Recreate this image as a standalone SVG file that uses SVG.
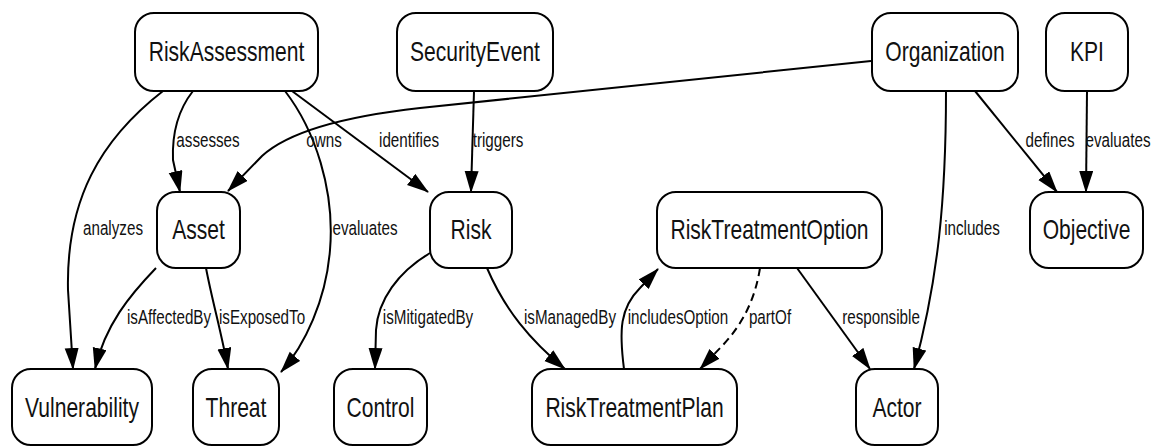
<svg xmlns="http://www.w3.org/2000/svg" width="1155" height="446" viewBox="0 0 1155 446">
  <defs>
    <marker id="arrow" markerUnits="userSpaceOnUse" markerWidth="24" markerHeight="15" refX="21" refY="7" orient="auto">
      <path d="M0,0 L22,7 L0,14 z" fill="#000"/>
    </marker>
    <style>
      .node rect { fill: #fff; stroke: #000; stroke-width: 2; }
      .node text { font-family: "Liberation Sans", Arial, sans-serif; font-size: 27px; fill: #111; text-anchor: middle; }
      .edge { fill: none; stroke: #000; stroke-width: 2; marker-end: url(#arrow); }
      .dashed { stroke-dasharray: 8 5; }
      .label { font-family: "Liberation Sans", Arial, sans-serif; font-size: 19.5px; fill: #111; text-anchor: middle; }
    </style>
  </defs>
  <rect width="1155" height="446" fill="#fff"/>

  <!-- connectors -->
  <g id="connectors">
    <path class="edge" d="M163,91 C100,140 66,200 68,290 L73,369"/>
    <path class="edge" d="M193,91 C178,110 172,135 173,160 L180,192"/>
    <path class="edge" d="M871,61 L420,108 C330,118 285,135 262,156 L228,191"/>
    <path class="edge" d="M285,91 C315,130 335,190 330,250 C326,300 305,345 281,372"/>
    <path class="edge" d="M292,91 L428,192"/>
    <path class="edge" d="M474,91 L471,192"/>
    <path class="edge" d="M975,91 L1057,192"/>
    <path class="edge" d="M1087,91 L1086,192"/>
    <path class="edge" d="M946,91 C946,200 938,280 914,369"/>
    <path class="edge" d="M156,268 C130,295 105,325 95,369"/>
    <path class="edge" d="M206,268 C212,300 222,335 228,369"/>
    <path class="edge" d="M430,253 C398,272 378,300 376,330 L375,369"/>
    <path class="edge" d="M487,268 C505,310 530,340 565,369"/>
    <path class="edge" d="M624,369 C619,330 620,308 640,288 L658,269"/>
    <path class="edge dashed" d="M760,268 C755,300 742,325 722,346 L700,369"/>
    <path class="edge" d="M797,268 L870,369"/>

    <text class="label" transform="translate(113,235) scale(0.78,1)">analyzes</text>
    <text class="label" transform="translate(208,147) scale(0.78,1)">assesses</text>
    <text class="label" transform="translate(324,147) scale(0.78,1)">owns</text>
    <text class="label" transform="translate(365,235) scale(0.78,1)">evaluates</text>
    <text class="label" transform="translate(409,147) scale(0.78,1)">identifies</text>
    <text class="label" transform="translate(498,147) scale(0.78,1)">triggers</text>
    <text class="label" transform="translate(1050,147) scale(0.78,1)">defines</text>
    <text class="label" transform="translate(1118,147) scale(0.78,1)">evaluates</text>
    <text class="label" transform="translate(972,235) scale(0.78,1)">includes</text>
    <text class="label" transform="translate(169,324) scale(0.78,1)">isAffectedBy</text>
    <text class="label" transform="translate(262,324) scale(0.78,1)">isExposedTo</text>
    <text class="label" transform="translate(428,324) scale(0.78,1)">isMitigatedBy</text>
    <text class="label" transform="translate(570,324) scale(0.78,1)">isManagedBy</text>
    <text class="label" transform="translate(678,324) scale(0.78,1)">includesOption</text>
    <text class="label" transform="translate(770,324) scale(0.78,1)">partOf</text>
    <text class="label" transform="translate(881,324) scale(0.78,1)">responsible</text>
  </g>

  <!-- nodes -->
  <g id="RiskAssessment" class="node">
    <rect x="135" y="13" width="183" height="78" rx="19"/>
    <text transform="translate(226.5,61) scale(0.78,1)">RiskAssessment</text>
  </g>
  <g id="SecurityEvent" class="node">
    <rect x="397" y="13" width="156" height="78" rx="19"/>
    <text transform="translate(475,61) scale(0.78,1)">SecurityEvent</text>
  </g>
  <g id="Organization" class="node">
    <rect x="872" y="13" width="146" height="78" rx="19"/>
    <text transform="translate(945,61) scale(0.78,1)">Organization</text>
  </g>
  <g id="KPI" class="node">
    <rect x="1046" y="13" width="82" height="78" rx="19"/>
    <text transform="translate(1087,61) scale(0.78,1)">KPI</text>
  </g>
  <g id="Asset" class="node">
    <rect x="157" y="192" width="83" height="76" rx="19"/>
    <text transform="translate(198.5,238.5) scale(0.78,1)">Asset</text>
  </g>
  <g id="Risk" class="node">
    <rect x="430" y="192" width="82" height="76" rx="19"/>
    <text transform="translate(471,238.5) scale(0.78,1)">Risk</text>
  </g>
  <g id="RiskTreatmentOption" class="node">
    <rect x="657" y="192" width="225" height="76" rx="19"/>
    <text transform="translate(769.5,238.5) scale(0.78,1)">RiskTreatmentOption</text>
  </g>
  <g id="Objective" class="node">
    <rect x="1030" y="192" width="113" height="76" rx="19"/>
    <text transform="translate(1086.5,238.5) scale(0.78,1)">Objective</text>
  </g>
  <g id="Vulnerability" class="node">
    <rect x="12" y="369" width="140" height="76" rx="19"/>
    <text transform="translate(82,417) scale(0.78,1)">Vulnerability</text>
  </g>
  <g id="Threat" class="node">
    <rect x="193" y="369" width="86" height="76" rx="19"/>
    <text transform="translate(236,417) scale(0.78,1)">Threat</text>
  </g>
  <g id="Control" class="node">
    <rect x="334" y="369" width="93" height="76" rx="19"/>
    <text transform="translate(380.5,417) scale(0.78,1)">Control</text>
  </g>
  <g id="RiskTreatmentPlan" class="node">
    <rect x="532" y="369" width="205" height="76" rx="19"/>
    <text transform="translate(634.5,417) scale(0.78,1)">RiskTreatmentPlan</text>
  </g>
  <g id="Actor" class="node">
    <rect x="856" y="369" width="82" height="76" rx="19"/>
    <text transform="translate(897,417) scale(0.78,1)">Actor</text>
  </g>
</svg>
